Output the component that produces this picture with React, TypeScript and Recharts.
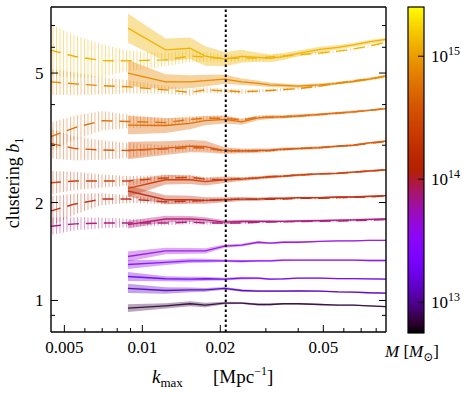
import React from "react";
import {
  ComposedChart,
  Line,
  Area,
  XAxis,
  YAxis,
  ReferenceLine,
} from "recharts";

// k_max grid [Mpc^-1]
const K = [
  0.0044, 0.0055, 0.007, 0.0088, 0.0123, 0.0153, 0.0175, 0.0208, 0.0242,
  0.028, 0.0311, 0.035, 0.04, 0.0485, 0.057, 0.0652, 0.075, 0.0873,
];

// solid curves start at k = 0.0088 (last 15 grid points), heaviest mass first
const SOLID_B = [
  [6.87, 5.89, 5.96, 5.64, 5.52, 5.63, 5.59, 5.55, 5.62, 5.75, 5.91, 6.0, 6.1, 6.23, 6.35],
  [5.0, 4.7, 4.7, 4.74, 4.79, 4.7, 4.65, 4.6, 4.58, 4.56, 4.6, 4.65, 4.71, 4.79, 4.9],
  [3.46, 3.45, 3.5, 3.57, 3.6, 3.54, 3.64, 3.66, 3.67, 3.69, 3.73, 3.77, 3.8, 3.84, 3.89],
  [2.89, 2.94, 2.98, 2.97, 2.89, 2.88, 2.89, 2.9, 2.92, 2.93, 2.95, 2.98, 3.0, 3.05, 3.09],
  [2.21, 2.35, 2.35, 2.32, 2.35, 2.36, 2.38, 2.4, 2.41, 2.43, 2.45, 2.46, 2.48, 2.5, 2.52],
  [2.17, 2.04, 2.04, 2.03, 2.04, 2.05, 2.05, 2.06, 2.06, 2.07, 2.07, 2.08, 2.08, 2.09, 2.1],
  [1.71, 1.78, 1.78, 1.77, 1.74, 1.75, 1.75, 1.75, 1.75, 1.755, 1.76, 1.765, 1.77, 1.775, 1.78],
  [1.365, 1.42, 1.42, 1.42, 1.47, 1.48, 1.51, 1.5, 1.51, 1.51, 1.52, 1.525, 1.525, 1.53, 1.53],
  [1.29, 1.31, 1.324, 1.324, 1.324, 1.32, 1.324, 1.324, 1.33, 1.33, 1.33, 1.33, 1.33, 1.327, 1.327],
  [1.185, 1.166, 1.163, 1.166, 1.163, 1.171, 1.171, 1.163, 1.165, 1.171, 1.171, 1.168, 1.168, 1.165, 1.163],
  [1.089, 1.073, 1.078, 1.078, 1.089, 1.073, 1.069, 1.069, 1.069, 1.071, 1.069, 1.063, 1.061, 1.056, 1.054],
  [0.947, 0.963, 0.977, 0.968, 0.982, 0.982, 0.972, 0.972, 0.977, 0.977, 0.972, 0.968, 0.968, 0.963, 0.958],
];

// half width of the shaded band, in dex
const SOLID_ERR = [
  [0.045, 0.035, 0.033, 0.03, 0.022, 0.02, 0.014, 0.012, 0.011, 0.009, 0.008, 0.007, 0.006, 0.006, 0.005],
  [0.04, 0.023, 0.02, 0.018, 0.014, 0.01, 0.008, 0.007, 0.006, 0.005, 0.005, 0.004, 0.004, 0.004, 0.004],
  [0.028, 0.023, 0.018, 0.014, 0.012, 0.009, 0.007, 0.006, 0.005, 0.005, 0.004, 0.004, 0.004, 0.003, 0.003],
  [0.027, 0.021, 0.019, 0.018, 0.01, 0.007, 0.006, 0.005, 0.005, 0.004, 0.004, 0.003, 0.003, 0.003, 0.003],
  [0.026, 0.015, 0.013, 0.012, 0.01, 0.006, 0.005, 0.005, 0.004, 0.004, 0.003, 0.003, 0.003, 0.003, 0.003],
  [0.017, 0.014, 0.012, 0.01, 0.008, 0.006, 0.005, 0.004, 0.004, 0.003, 0.003, 0.003, 0.003, 0.003, 0.003],
  [0.012, 0.01, 0.009, 0.008, 0.006, 0.005, 0.004, 0.004, 0.003, 0.003, 0.003, 0.003, 0.003, 0.003, 0.003],
  [0.015, 0.01, 0.009, 0.008, 0.005, 0.004, 0.004, 0.003, 0.003, 0.003, 0.002, 0.002, 0.002, 0.002, 0.002],
  [0.014, 0.008, 0.007, 0.006, 0.004, 0.004, 0.003, 0.003, 0.003, 0.002, 0.002, 0.002, 0.002, 0.002, 0.002],
  [0.014, 0.008, 0.007, 0.006, 0.004, 0.004, 0.003, 0.003, 0.003, 0.002, 0.002, 0.002, 0.002, 0.002, 0.002],
  [0.014, 0.01, 0.007, 0.006, 0.004, 0.004, 0.003, 0.003, 0.003, 0.002, 0.002, 0.002, 0.002, 0.002, 0.002],
  [0.012, 0.008, 0.008, 0.007, 0.004, 0.003, 0.003, 0.003, 0.002, 0.002, 0.002, 0.002, 0.002, 0.002, 0.002],
];

// dashed curves over the full grid (seven heaviest bins)
const DASHED_B = [
  [5.89, 5.62, 5.46, 5.45, 5.49, 5.64, 5.6, 5.54, 5.56, 5.56, 5.6, 5.64, 5.69, 5.76, 5.84, 5.93, 6.05, 6.22],
  [4.7, 4.63, 4.57, 4.54, 4.44, 4.36, 4.44, 4.41, 4.38, 4.4, 4.42, 4.45, 4.48, 4.56, 4.66, 4.73, 4.79, 4.88],
  [3.18, 3.4, 3.57, 3.55, 3.52, 3.6, 3.63, 3.63, 3.59, 3.66, 3.66, 3.67, 3.69, 3.73, 3.76, 3.8, 3.84, 3.89],
  [3.04, 2.93, 2.9, 2.89, 2.92, 2.95, 2.94, 2.88, 2.89, 2.88, 2.89, 2.91, 2.93, 2.95, 2.98, 3.0, 3.04, 3.08],
  [2.3, 2.33, 2.33, 2.33, 2.38, 2.39, 2.36, 2.35, 2.37, 2.38, 2.4, 2.41, 2.43, 2.45, 2.46, 2.48, 2.5, 2.52],
  [1.88, 1.98, 2.05, 2.05, 2.01, 2.02, 2.03, 2.04, 2.05, 2.046, 2.046, 2.05, 2.06, 2.06, 2.07, 2.075, 2.08, 2.095],
  [1.69, 1.72, 1.73, 1.73, 1.73, 1.74, 1.73, 1.73, 1.73, 1.74, 1.742, 1.745, 1.748, 1.752, 1.755, 1.76, 1.765, 1.775],
];

const DASHED_ERR = [
  [0.08, 0.065, 0.05, 0.032, 0.02, 0.018, 0.015, 0.012, 0.01, 0.008, 0.007, 0.006, 0.005, 0.005, 0.004, 0.004, 0.004, 0.004],
  [0.04, 0.035, 0.027, 0.02, 0.012, 0.01, 0.009, 0.008, 0.007, 0.006, 0.005, 0.005, 0.004, 0.004, 0.004, 0.004, 0.004, 0.004],
  [0.044, 0.037, 0.03, 0.021, 0.012, 0.01, 0.008, 0.007, 0.006, 0.005, 0.005, 0.004, 0.004, 0.004, 0.003, 0.003, 0.003, 0.003],
  [0.046, 0.037, 0.03, 0.023, 0.012, 0.01, 0.008, 0.007, 0.006, 0.005, 0.005, 0.004, 0.004, 0.004, 0.003, 0.003, 0.003, 0.003],
  [0.036, 0.028, 0.02, 0.015, 0.008, 0.007, 0.006, 0.005, 0.005, 0.004, 0.004, 0.004, 0.003, 0.003, 0.003, 0.003, 0.003, 0.003],
  [0.046, 0.032, 0.018, 0.012, 0.007, 0.006, 0.005, 0.005, 0.004, 0.004, 0.003, 0.003, 0.003, 0.003, 0.003, 0.003, 0.003, 0.003],
  [0.027, 0.02, 0.016, 0.013, 0.007, 0.006, 0.005, 0.004, 0.004, 0.003, 0.003, 0.003, 0.003, 0.003, 0.003, 0.003, 0.003, 0.003],
];

const X_TICKS = [0.005, 0.006, 0.007, 0.008, 0.009, 0.01, 0.02, 0.03, 0.04, 0.05, 0.06, 0.07, 0.08];
const X_LABELLED = [0.005, 0.01, 0.02, 0.05];
const Y_TICKS = [0.9, 1, 2, 3, 4, 5, 6, 7];
const Y_LABELLED = [1, 2, 5];
const CBAR_TICKS = [13, 14, 15];
const K_CUT = 0.021;

const X_DOMAIN = [0.00444, 0.0873];
const Y_DOMAIN = [0.8, 7.98];
const CBAR_RANGE = [12.75, 15.4];

const COLORS = [
  "#f0b400",
  "#e88a00",
  "#e07010",
  "#d85c10",
  "#cc4410",
  "#c03418",
  "#b0207a",
  "#a020e0",
  "#9018ff",
  "#7c10f0",
  "#6010c0",
  "#3c1448",
];

const FONT = '"Liberation Serif", "DejaVu Serif", serif';

const rows = K.map((k, i) => {
  const row: Record<string, any> = { k };
  SOLID_B.forEach((s, j) => {
    const off = i - (K.length - s.length);
    if (off < 0) {
      row[`s${j}`] = null;
      row[`sb${j}`] = null;
      return;
    }
    const f = Math.pow(10, SOLID_ERR[j][off]);
    row[`s${j}`] = s[off];
    row[`sb${j}`] = [s[off] / f, s[off] * f];
  });
  DASHED_B.forEach((d, j) => {
    const f = Math.pow(10, DASHED_ERR[j][i]);
    row[`d${j}`] = d[i];
    row[`db${j}`] = [d[i] / f, d[i] * f];
  });
  return row;
});

const near = (a: number, list: number[]) => list.some((v) => Math.abs(v - a) < 1e-9);

function XTick(props: any) {
  const { x, y, payload, side } = props;
  const v = payload.value;
  const big = near(v, X_LABELLED);
  const len = big ? 7 : 4;
  const dir = side === "bottom" ? -1 : 1;
  return (
    <g>
      <line x1={x} x2={x} y1={y} y2={y + dir * len} stroke="#000" strokeWidth={1} />
      {side === "bottom" && big && (
        <text x={x} y={y + 21} textAnchor="middle" fontSize={17} fontFamily={FONT} fill="#000">
          {String(v)}
        </text>
      )}
    </g>
  );
}

function YTick(props: any) {
  const { x, y, payload, side } = props;
  const v = payload.value;
  const big = near(v, Y_LABELLED);
  const len = big ? 7 : 4;
  const dir = side === "left" ? 1 : -1;
  return (
    <g>
      <line x1={x} x2={x + dir * len} y1={y} y2={y} stroke="#000" strokeWidth={1} />
      {side === "left" && big && (
        <text x={x - 7.5} y={y + 6} textAnchor="end" fontSize={17} fontFamily={FONT} fill="#000">
          {String(v)}
        </text>
      )}
    </g>
  );
}

// matplotlib "gnuplot" colormap for the colorbar
function gnuplot(t: number) {
  const r = Math.sqrt(t);
  const g = t * t * t;
  const b = Math.max(0, Math.sin(2 * Math.PI * t));
  const h = (c: number) => Math.round(Math.min(1, c) * 255).toString(16).padStart(2, "0");
  return `#${h(r)}${h(g)}${h(b)}`;
}

function Overlay() {
  const cx = 408;
  const cy = 7;
  const cw = 16;
  const ch = 326;
  const stops = Array.from({ length: 41 }, (_, i) => i / 40);
  const yOf = (lm: number) => cy + ((CBAR_RANGE[1] - lm) / (CBAR_RANGE[1] - CBAR_RANGE[0])) * ch;
  return (
    <svg
      width={471}
      height={395}
      style={{ position: "absolute", left: 0, top: 0, pointerEvents: "none" }}
      fontFamily={FONT}
    >
      <defs>
        <linearGradient id="cbar" x1="0" y1="0" x2="0" y2="1">
          {stops.map((o) => (
            <stop key={o} offset={o} stopColor={gnuplot(1 - o)} />
          ))}
        </linearGradient>
      </defs>
      <rect x={cx} y={cy} width={cw} height={ch} fill="url(#cbar)" stroke="#000" strokeWidth={1.2} />
      {CBAR_TICKS.map((lm) => (
        <g key={lm}>
          <line x1={cx + cw} x2={cx + cw - 6} y1={yOf(lm)} y2={yOf(lm)} stroke="#000" strokeWidth={1} />
          <text x={431} y={yOf(lm) + 6} fontSize={17} fill="#000">
            10
            <tspan fontSize={12} dy={-7}>
              {lm}
            </tspan>
          </text>
        </g>
      ))}
      <text x={385} y={357} fontSize={17} fill="#000">
        <tspan fontStyle="italic">M</tspan>
        <tspan> [</tspan>
        <tspan fontStyle="italic">M</tspan>
        <tspan fontSize={12} dy={4}>⊙</tspan>
        <tspan dy={-4}>]</tspan>
      </text>
      <text transform="rotate(-90)" x={-183} y={19} textAnchor="middle" fontSize={18} fill="#000">
        clustering <tspan fontStyle="italic">b</tspan>
        <tspan fontSize={12} dy={4}>1</tspan>
      </text>
      <text y={383} fontSize={19} fill="#000">
        <tspan x={152} fontStyle="italic">k</tspan>
        <tspan fontSize={13} dy={4}>max</tspan>
        <tspan x={213} dy={-4}>[Mpc</tspan>
        <tspan fontSize={12} dy={-8}>−1</tspan>
        <tspan dy={8}>]</tspan>
      </text>
    </svg>
  );
}

export default function App() {
  const axisLine = { stroke: "#000", strokeWidth: 1.4 };
  return (
    <div style={{ position: "absolute", left: 0, top: 0, width: 471, height: 395, background: "#fff" }}>
      <ComposedChart
        width={471}
        height={395}
        data={rows}
        margin={{ top: 6, right: 84, bottom: 23, left: 0 }}
      >
        <defs>
          {DASHED_B.map((_, j) => (
            <pattern
              key={j}
              id={`hatch${j}`}
              patternUnits="userSpaceOnUse"
              width={3.5}
              height={10}
            >
              <rect x={0} y={0} width={1} height={10} fill={COLORS[j]} fillOpacity={0.45} />
            </pattern>
          ))}
        </defs>
        <XAxis
          dataKey="k"
          type="number"
          scale="log"
          domain={X_DOMAIN}
          allowDataOverflow
          ticks={X_TICKS}
          interval={0}
          tick={(p: any) => <XTick {...p} side="bottom" />}
          tickLine={false}
          tickSize={0}
          tickMargin={0}
          height={40}
          axisLine={axisLine}
        />
        <XAxis
          xAxisId="top"
          orientation="top"
          type="number"
          scale="log"
          domain={X_DOMAIN}
          allowDataOverflow
          ticks={X_TICKS}
          interval={0}
          tick={(p: any) => <XTick {...p} side="top" />}
          tickLine={false}
          tickSize={0}
          tickMargin={0}
          height={1}
          axisLine={axisLine}
        />
        <YAxis
          type="number"
          scale="log"
          domain={Y_DOMAIN}
          allowDataOverflow
          ticks={Y_TICKS}
          interval={0}
          tick={(p: any) => <YTick {...p} side="left" />}
          tickLine={false}
          tickSize={0}
          tickMargin={0}
          width={51}
          axisLine={axisLine}
        />
        <YAxis
          yAxisId="right"
          orientation="right"
          type="number"
          scale="log"
          domain={Y_DOMAIN}
          allowDataOverflow
          ticks={Y_TICKS}
          interval={0}
          tick={(p: any) => <YTick {...p} side="right" />}
          tickLine={false}
          tickSize={0}
          tickMargin={0}
          width={1}
          axisLine={axisLine}
        />

        {DASHED_B.map((_, j) => (
          <Area
            key={`db${j}`}
            dataKey={`db${j}`}
            type="linear"
            fill={`url(#hatch${j})`}
            fillOpacity={1}
            stroke="none"
            dot={false}
            activeDot={false}
            isAnimationActive={false}
          />
        ))}
        {SOLID_B.map((_, j) => (
          <Area
            key={`sb${j}`}
            dataKey={`sb${j}`}
            type="linear"
            fill={COLORS[j]}
            fillOpacity={0.38}
            stroke="none"
            dot={false}
            activeDot={false}
            isAnimationActive={false}
          />
        ))}
        {SOLID_B.map((_, j) => (
          <Line
            key={`s${j}`}
            dataKey={`s${j}`}
            type="linear"
            stroke={COLORS[j]}
            strokeWidth={1.3}
            dot={false}
            activeDot={false}
            isAnimationActive={false}
          />
        ))}
        {DASHED_B.map((_, j) => (
          <Line
            key={`d${j}`}
            dataKey={`d${j}`}
            type="linear"
            stroke={COLORS[j]}
            strokeWidth={1.4}
            strokeDasharray="11 7"
            dot={false}
            activeDot={false}
            isAnimationActive={false}
          />
        ))}
        <ReferenceLine x={K_CUT} stroke="#000" strokeWidth={2} strokeDasharray="2.5 2.5" />
      </ComposedChart>
      <Overlay />
    </div>
  );
}
